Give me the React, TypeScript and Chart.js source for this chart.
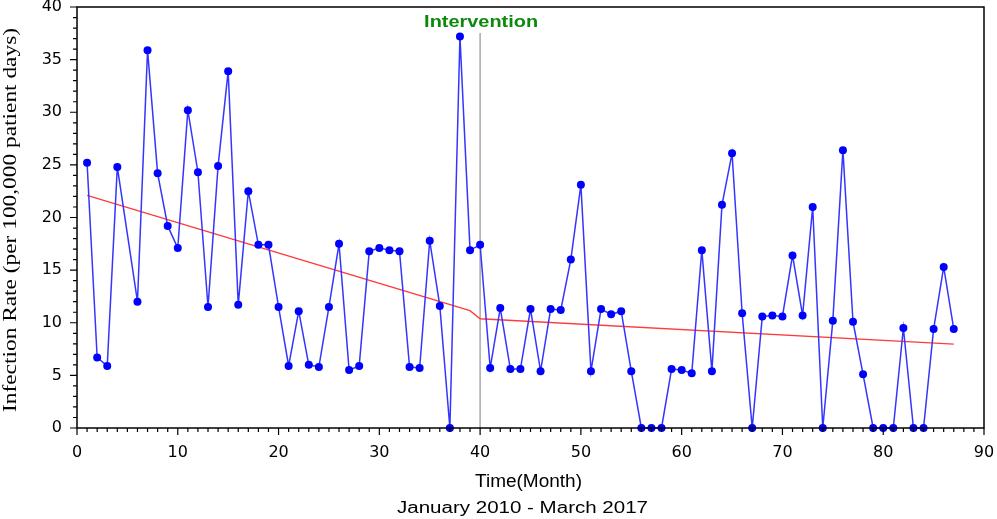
import React, { useEffect, useRef } from "react";
import { Chart, registerables } from "chart.js";

Chart.register(...registerables);

const months: number[] = [
  1, 2, 3, 4, 6, 7, 8, 9, 10, 11, 12, 13, 14, 15, 16, 17, 18, 19, 20, 21, 22, 23, 24, 25, 26, 27, 28, 29, 30,
  31, 32, 33, 34, 35, 36, 37, 38, 39, 40, 41, 42, 43, 44, 45, 46, 47, 48, 49, 50, 51, 52, 53, 54, 55, 56, 57, 58,
  59, 60, 61, 62, 63, 64, 65, 66, 67, 68, 69, 70, 71, 72, 73, 74, 75, 76, 77, 78, 79, 80, 81, 82, 83, 84, 85, 86, 87,
];
const rates: number[] = [
  25.2, 6.7, 5.9, 24.8, 12.0, 35.9, 24.2, 19.2, 17.1, 30.2, 24.3, 11.5, 24.9, 33.9, 11.7, 22.5, 17.4, 17.4, 11.5, 5.9,
  11.1, 6.0, 5.8, 11.5, 17.5, 5.5, 5.9, 16.8, 17.1, 16.9, 16.8, 5.8, 5.7, 17.8, 11.6, 0, 37.2, 16.9, 17.4, 5.7, 11.4,
  5.6, 5.6, 11.3, 5.4, 11.3, 11.2, 16.0, 23.1, 5.4, 11.3, 10.8, 11.1, 5.4, 0, 0, 0, 5.6, 5.5, 5.2, 16.9, 5.4, 21.2,
  26.1, 10.9, 0, 10.6, 10.7, 10.6, 16.4, 10.7, 21.0, 0, 10.2, 26.4, 10.1, 5.1, 0, 0, 0, 9.5, 0, 0, 9.4, 15.3, 9.4,
];
const trendMonths: number[] = [1, 39, 40, 87];
const trendRates: number[] = [22.1, 11.15, 10.38, 7.97];

const interventionMonth = 40;
const interventionLabel = "Intervention";
const yTitle = "Infection Rate (per 100,000 patient days)";
const xTitle = "Time(Month)";
const xSubtitle = "January 2010 - March 2017";

function drawStretched(
  ctx: CanvasRenderingContext2D,
  text: string,
  cx: number,
  by: number,
  font: string,
  targetW: number,
  color: string,
  rotate = false
) {
  ctx.save();
  ctx.font = font;
  const w = ctx.measureText(text).width;
  const s = targetW / w;
  ctx.translate(cx, by);
  if (rotate) ctx.rotate(-Math.PI / 2);
  ctx.scale(s, 1);
  ctx.fillStyle = color;
  ctx.textAlign = "center";
  ctx.textBaseline = "alphabetic";
  ctx.fillText(text, 0, 0);
  ctx.restore();
}

const decorPlugin = {
  id: "decor",
  beforeDatasetsDraw(chart: any) {
    const { ctx, chartArea, scales } = chart;
    const x = scales.x.getPixelForValue(interventionMonth);
    ctx.save();
    ctx.strokeStyle = "#a8a8a8";
    ctx.lineWidth = 1.5;
    ctx.beginPath();
    ctx.moveTo(x, 33);
    ctx.lineTo(x, chartArea.bottom);
    ctx.stroke();
    ctx.restore();
  },
  afterDraw(chart: any) {
    const { ctx, chartArea, scales } = chart;
    const { left, right, top, bottom } = chartArea;
    ctx.save();
    ctx.strokeStyle = "#000";
    ctx.lineWidth = 1.5;
    ctx.strokeRect(left, top, right - left, bottom - top);
    ctx.lineWidth = 1.2;
    ctx.beginPath();
    for (let v = 0; v <= 90; v++) {
      const px = scales.x.getPixelForValue(v);
      const len = v % 10 === 0 ? 7 : 4;
      ctx.moveTo(px, bottom);
      ctx.lineTo(px, bottom + len);
    }
    for (let v = 0; v <= 40; v++) {
      const py = scales.y.getPixelForValue(v);
      const len = v % 5 === 0 ? 7 : 4;
      ctx.moveTo(left, py);
      ctx.lineTo(left - len, py);
    }
    ctx.stroke();
    ctx.restore();

    const ix = scales.x.getPixelForValue(interventionMonth);
    drawStretched(ctx, interventionLabel, ix + 1, 27, "bold 17px 'Liberation Sans'", 114, "#0a8a0a");
    drawStretched(ctx, yTitle, 16, 220, "19px 'Liberation Serif'", 384, "#000", true);
    const cx = (left + right) / 2;
    drawStretched(ctx, xTitle, cx - 2, 487, "18px 'Liberation Sans'", 107, "#000");
    drawStretched(ctx, xSubtitle, cx - 8, 513, "16px 'Liberation Sans'", 251, "#000");
  },
};

export default function App() {
  const ref = useRef<HTMLCanvasElement | null>(null);
  useEffect(() => {
    if (!ref.current) return;
    const chart = new Chart(ref.current, {
      type: "scatter",
      data: {
        datasets: [
          {
            label: "Infection rate",
            data: months.map((m, i) => ({ x: m, y: rates[i] })),
            showLine: true,
            borderColor: "#3535ff",
            borderWidth: 1.5,
            backgroundColor: "#0000ff",
            pointBackgroundColor: "#0000ff",
            pointBorderColor: "#0000ff",
            pointRadius: 4,
            pointBorderWidth: 0,
            clip: false as any,
          },
          {
            label: "Trend",
            data: trendMonths.map((m, i) => ({ x: m, y: trendRates[i] })),
            showLine: true,
            borderColor: "#ff3b3b",
            borderWidth: 1.3,
            pointRadius: 0,
          },
        ],
      },
      options: {
        responsive: false,
        animation: false,
        devicePixelRatio: 1,
        layout: { padding: { top: 7, right: 13, left: 0, bottom: 0 } },
        plugins: { legend: { display: false }, tooltip: { enabled: false } },
        scales: {
          x: {
            type: "linear",
            min: 0,
            max: 90,
            grid: { display: false, drawTicks: false },
            border: { display: false },
            ticks: {
              stepSize: 10,
              padding: 15,
              color: "#000",
              font: { family: "'DejaVu Sans'", size: 16 },
            },
            afterFit: (s: any) => {
              s.height = 91;
              s.paddingLeft = 0;
              s.paddingRight = 0;
            },
          },
          y: {
            min: 0,
            max: 40,
            grid: { display: false, drawTicks: false },
            border: { display: false },
            ticks: {
              stepSize: 5,
              padding: 15,
              color: "#000",
              font: { family: "'DejaVu Sans'", size: 16 },
            },
            afterFit: (s: any) => {
              s.width = 77;
              s.paddingTop = 0;
              s.paddingBottom = 0;
            },
          },
        },
      },
      plugins: [decorPlugin],
    });
    return () => chart.destroy();
  }, []);
  return (
    <div style={{ position: "fixed", left: 0, top: 0, width: 997, height: 519, background: "#fff" }}>
      <canvas ref={ref} width={997} height={519} style={{ display: "block" }} />
    </div>
  );
}
